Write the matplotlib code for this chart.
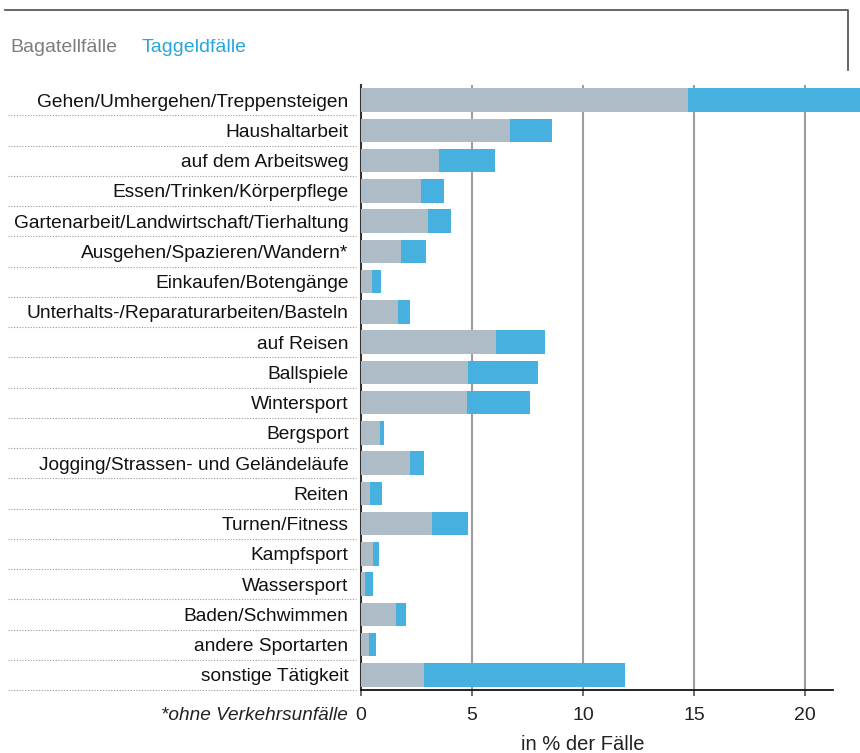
import numpy as np
import matplotlib
matplotlib.use('Agg')
import matplotlib.pyplot as plt
from matplotlib.lines import Line2D

plt.rcParams['font.family'] = ['Liberation Sans', 'DejaVu Sans']

kategorien = ['Gehen/Umhergehen/Treppensteigen', 'Haushaltarbeit', 'auf dem Arbeitsweg',
              'Essen/Trinken/Körperpflege', 'Gartenarbeit/Landwirtschaft/Tierhaltung',
              'Ausgehen/Spazieren/Wandern*', 'Einkaufen/Botengänge',
              'Unterhalts-/Reparaturarbeiten/Basteln', 'auf Reisen', 'Ballspiele',
              'Wintersport', 'Bergsport', 'Jogging/Strassen- und Geländeläufe', 'Reiten',
              'Turnen/Fitness', 'Kampfsport', 'Wassersport', 'Baden/Schwimmen',
              'andere Sportarten', 'sonstige Tätigkeit']
bagatell = [14.75, 6.70, 3.51, 2.70, 3.01, 1.80, 0.49, 1.66, 6.07, 4.81,
            4.77, 0.85, 2.20, 0.40, 3.19, 0.54, 0.18, 1.57, 0.36, 2.83]
taggeld = [7.85, 1.89, 2.52, 1.03, 1.04, 1.12, 0.41, 0.54, 2.21, 3.15,
           2.83, 0.18, 0.63, 0.54, 1.62, 0.27, 0.36, 0.45, 0.30, 9.04]
xticks = [0, 5, 10, 15, 20]

grau = '#aebcc8'
blau = '#46b0de'

W, H = 860, 753
fig = plt.figure(figsize=(8.6, 7.53), dpi=100)
ax = fig.add_axes([361 / W, 1 - 690 / H, 499 / W, 605 / H])

y = np.arange(len(kategorien))
ax.barh(y, bagatell, height=0.77, color=grau, zorder=3)
ax.barh(y, taggeld, left=bagatell, height=0.77, color=blau, zorder=3)

ax.set_xlim(0, 499 / 22.2)
ax.set_ylim(len(kategorien) - 0.5, -0.5)

for t in xticks[1:]:
    ax.axvline(t, color='#9a9da1', lw=1.5, zorder=1)

ax.set_xticks(xticks)
ax.set_xticklabels([str(t) for t in xticks], fontsize=14)
ax.tick_params(axis='x', length=4, width=1.2, color='#555555', pad=8, labelcolor='#222222')
ax.set_yticks(y)
ax.set_yticklabels(kategorien, fontsize=13.8, color='#111111')
ax.tick_params(axis='y', length=0, pad=9)

for s in ['top', 'right']:
    ax.spines[s].set_visible(False)
ax.spines['left'].set_color('#333333')
ax.spines['left'].set_linewidth(1.5)
ax.spines['bottom'].set_color('#111111')
ax.spines['bottom'].set_linewidth(1.3)
ax.spines['bottom'].set_bounds(0, (833 - 361) / 22.2)

# gepunktete Trennlinien links
tr = ax.get_yaxis_transform()
for k in range(len(kategorien)):
    ax.plot([(8 - 361) / 499, (356 - 361) / 499], [k + 0.5, k + 0.5], transform=tr,
            color='#999999', lw=0.8, ls=(0, (1, 1.5)), clip_on=False)

fig.text(583 / W, 1 - 745 / H, 'in % der Fälle', ha='center', va='center',
         fontsize=14.5, color='#222222')
fig.text(348 / W, 1 - 715 / H, '*ohne Verkehrsunfälle', ha='right', va='center',
         fontsize=13.7, style='italic', color='#222222')

# Legende
fig.text(10 / W, 1 - 48 / H, 'Bagatellfälle', ha='left', va='center', fontsize=14, color='#7d7d7d')
fig.text(142 / W, 1 - 48 / H, 'Taggeldfälle', ha='left', va='center', fontsize=14, color='#27a6dc')

# Rahmen oben
fig.add_artist(Line2D([5 / W, 848 / W, 848 / W], [1 - 10 / H, 1 - 10 / H, 1 - 70 / H],
                      transform=fig.transFigure, color='#5a5a5a', lw=1.3))

fig.savefig('out.png', dpi=100)
